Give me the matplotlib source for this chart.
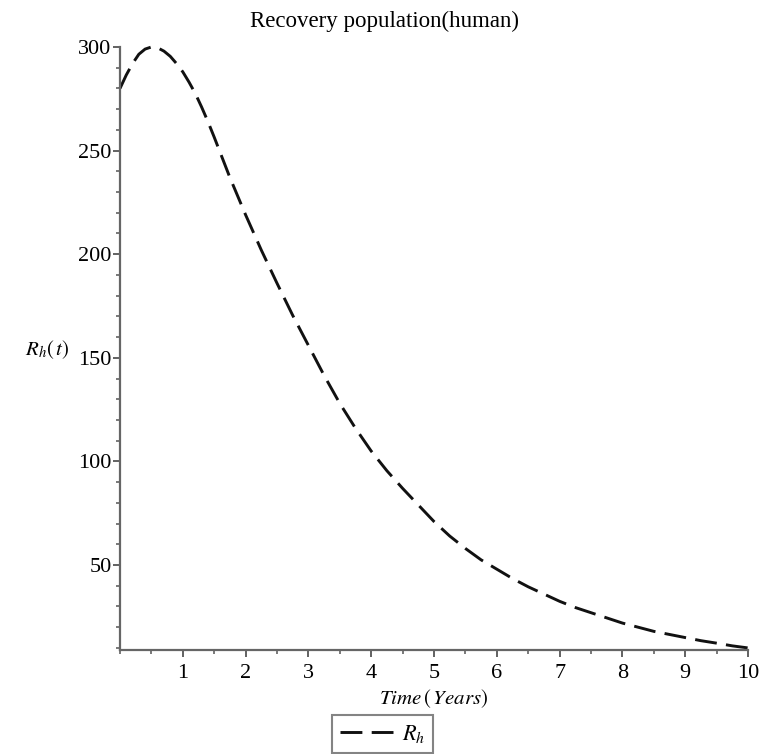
import numpy as np
import matplotlib.pyplot as plt
from matplotlib.ticker import MultipleLocator

plt.rcParams['font.family'] = 'Liberation Serif'
plt.rcParams['mathtext.fontset'] = 'stix'

# values (time in years, recovered humans)
t = [0, 0.1, 0.2, 0.3, 0.4, 0.5, 0.6, 0.7, 0.8, 0.9, 1.0, 1.1, 1.2, 1.3, 1.4, 1.5,
     1.75, 2, 2.25, 2.5, 2.75, 3, 3.25, 3.5, 3.75,
     4, 4.25, 4.5, 4.75, 5, 5.25, 5.5, 5.75, 6, 6.25, 6.5, 6.75, 7, 7.25, 7.5, 7.75,
     8, 8.25, 8.5, 8.75, 9, 9.25, 9.5, 9.75, 10]
Rh = [280, 286.5, 292, 296.5, 299, 300, 299.6, 298, 295.5, 292, 288, 283, 277.5, 271, 264, 256.5,
      237, 219, 202, 186, 170.5, 156, 141.5, 128, 116,
      105, 95.5, 87, 79, 71, 64, 58, 52.5, 48, 43.5, 39.5, 36, 32.5, 29.5, 27, 24.5,
      22, 20, 18, 16.5, 15, 13.5, 12.3, 11, 10]

xticks = [1, 2, 3, 4, 5, 6, 7, 8, 9, 10]
yticks = [50, 100, 150, 200, 250, 300]

fig = plt.figure(figsize=(7.61, 7.54), dpi=100)
ax = fig.add_axes([120/761, 1-650/754, 628/761, 603/754])

line, = ax.plot(t, Rh, color='#111111', lw=2.1, dashes=(7.5, 3.2), clip_on=False, label=r'$R_h$')

ax.set_xlim(0, 10)
ax.set_ylim(9, 300)
ax.set_xticks(xticks)
ax.set_yticks(yticks)
ax.xaxis.set_minor_locator(MultipleLocator(0.5))
ax.yaxis.set_minor_locator(MultipleLocator(10))

for s in ['top', 'right']:
    ax.spines[s].set_visible(False)
for s in ['left', 'bottom']:
    ax.spines[s].set_color('#666666')
    ax.spines[s].set_linewidth(1.6)

ax.tick_params(which='major', length=5, width=1.3, color='#555555', labelsize=16, pad=5)
ax.tick_params(which='minor', length=3, width=1.1, color='#555555')
ax.tick_params(axis='y', which='major', pad=1)

fig.text(385/761, 1-21/754, 'Recovery population(human)', fontsize=16.5, ha='center', va='center')
ax.set_xlabel(r'$Time\,(\,Years)$', fontsize=15, labelpad=3)
fig.text(25/761, 1-350/754, r'$R_h(\,t)$', fontsize=15, va='center', ha='left')

leg = fig.legend(handles=[line], loc='upper left', bbox_to_anchor=(332/761, 1-715/754),
                 fontsize=16, frameon=True, fancybox=False, handlelength=2.4,
                 borderpad=0.35, handletextpad=0.4, borderaxespad=0)
leg.get_frame().set_edgecolor('#666666')
leg.get_frame().set_linewidth(1.5)

fig.savefig('out.png', dpi=100)
